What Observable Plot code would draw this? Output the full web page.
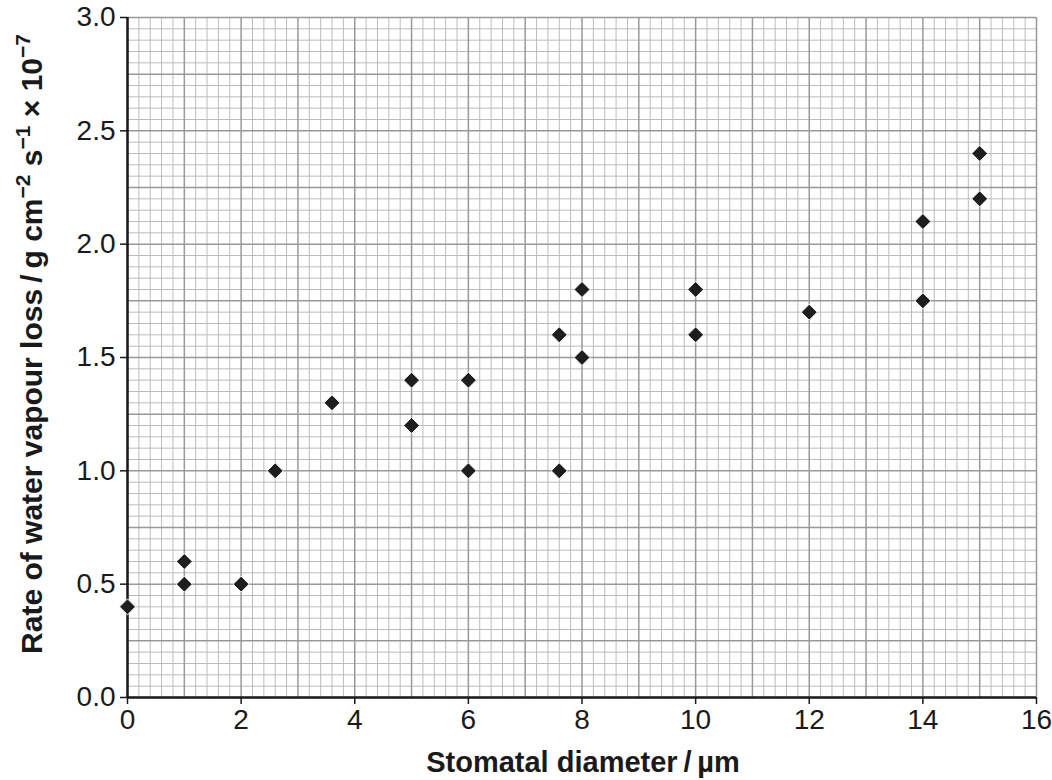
<!DOCTYPE html>
<html>
<head>
<meta charset="utf-8">
<script src="https://cdn.jsdelivr.net/npm/d3@7"></script>
<script src="https://cdn.jsdelivr.net/npm/@observablehq/plot@0.6"></script>
<style>
  html, body { margin: 0; padding: 0; background: #fff; }
  #chart { width: 1052px; height: 780px; }
</style>
</head>
<body>
<div id="chart"></div>
<script>
const diameter = [0, 1, 1, 2, 2.6, 3.6, 5, 5, 6, 6, 7.6, 7.6, 8, 8, 10, 10, 12, 14, 14, 15, 15];
const waterLoss = [0.4, 0.6, 0.5, 0.5, 1.0, 1.3, 1.4, 1.2, 1.4, 1.0, 1.6, 1.0, 1.8, 1.5, 1.8, 1.6, 1.7, 2.1, 1.75, 2.4, 2.2];
const xTicks = [0, 2, 4, 6, 8, 10, 12, 14, 16];
const yTicks = [0.0, 0.5, 1.0, 1.5, 2.0, 2.5, 3.0];

const points = diameter.map((d, i) => ({x: d, y: waterLoss[i]}));
const xMinor = d3.range(0, 80 + 1).map(i => i * 0.2).filter((v, i) => i % 5 !== 0);
const xMajor = d3.range(0, 17);
const yMinor = d3.range(0, 60 + 1).map(i => i * 0.05).filter((v, i) => i % 5 !== 0);
const yMajor = d3.range(0, 13).map(i => i * 0.25);

const font = "'Liberation Sans', Arial, sans-serif";

const plot = Plot.plot({
  width: 1052,
  height: 780,
  marginLeft: 127,
  marginRight: 16,
  marginTop: 17,
  marginBottom: 83,
  style: {fontFamily: font, fontSize: "28px", color: "#1a1a1a", background: "#fff"},
  x: {domain: [0, 16], label: null},
  y: {domain: [0, 3], label: null},
  marks: [
    Plot.ruleX(xMinor, {stroke: "#bcbcbc", strokeWidth: 1}),
    Plot.ruleY(yMinor, {stroke: "#bcbcbc", strokeWidth: 1}),
    Plot.ruleX(xMajor, {stroke: "#999999", strokeWidth: 1.5}),
    Plot.ruleY(yMajor, {stroke: "#999999", strokeWidth: 1.5}),
    Plot.axisX({ticks: xTicks, tickFormat: d => String(d), tickSize: 7, tickPadding: 5, fontSize: 28, stroke: "#1a1a1a", strokeWidth: 1.5, label: null}),
    Plot.axisY({ticks: yTicks, tickFormat: d => d.toFixed(1), tickSize: 7, tickPadding: 5, fontSize: 28, stroke: "#1a1a1a", strokeWidth: 1.5, label: null}),
    Plot.ruleY([0], {stroke: "#1a1a1a", strokeWidth: 2.5}),
    Plot.ruleX([0], {stroke: "#1a1a1a", strokeWidth: 2.5}),
    Plot.dot(points, {x: "x", y: "y", symbol: "diamond2", r: 7.2, fill: "#1e1e1e", stroke: "#fff", strokeWidth: 1})
  ]
});

const svg = d3.select(plot);
svg.append("text")
  .attr("x", 583).attr("y", 772)
  .attr("text-anchor", "middle")
  .style("font-family", font).style("font-size", "29px").style("font-weight", "bold").attr("fill", "#1a1a1a")
  .text("Stomatal diameter\u2009/\u2009µm");

const yl = svg.append("text")
  .attr("transform", "translate(42,344) rotate(-90)")
  .attr("text-anchor", "middle")
  .style("font-family", font).style("font-size", "30px").style("font-weight", "bold").attr("fill", "#1a1a1a");
yl.append("tspan").text("Rate of water vapour loss\u2009/\u2009g cm");
yl.append("tspan").attr("dy", -12).style("font-size", "21px").text("\u22122");
yl.append("tspan").attr("dy", 12).text(" s");
yl.append("tspan").attr("dy", -12).style("font-size", "21px").text("\u22121");
yl.append("tspan").attr("dy", 12).text(" \u00d7 10");
yl.append("tspan").attr("dy", -12).style("font-size", "21px").text("\u22127");

document.getElementById("chart").appendChild(plot);
</script>
</body>
</html>
